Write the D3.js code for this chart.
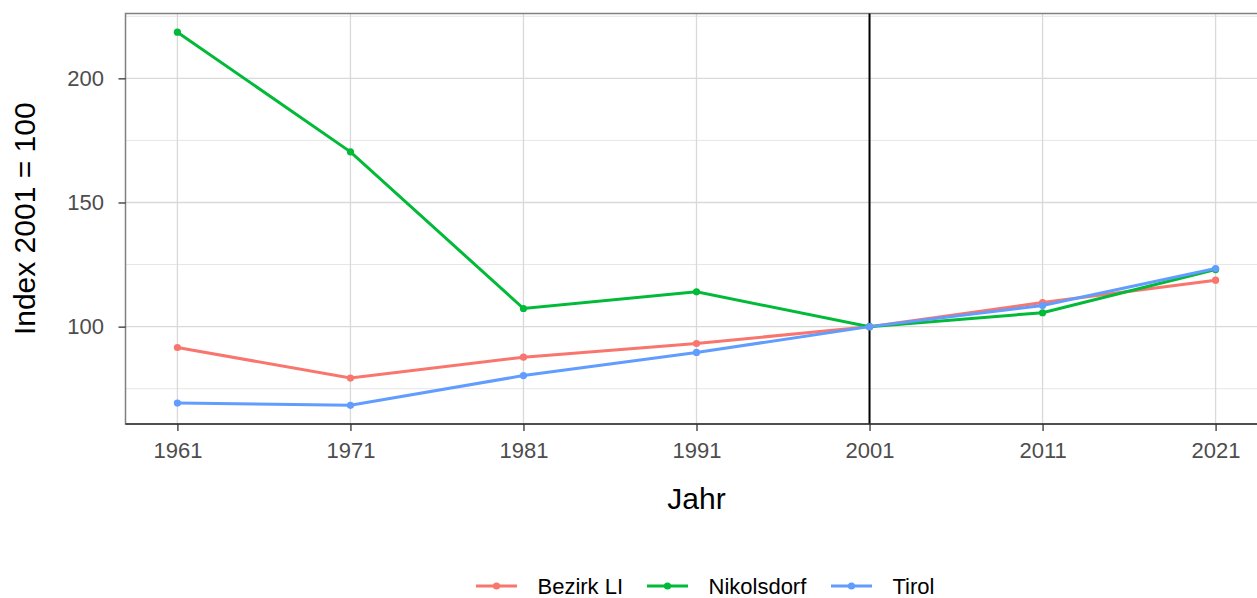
<!DOCTYPE html>
<html>
<head>
<meta charset="utf-8">
<script src="https://cdn.jsdelivr.net/npm/d3@7"></script>
<style>
  body { margin: 0; background: #fff; }
  text { font-family: Arial, "Liberation Sans", sans-serif; }
</style>
</head>
<body>
<div id="chart"></div>
<script>
// data (index 2001 = 100)
const years = [1961, 1971, 1981, 1991, 2001, 2011, 2021];
const bezirkLI = [91.6, 79.3, 87.7, 93.2, 100, 109.7, 118.7];
const nikolsdorf = [218.6, 170.4, 107.3, 114.0, 100, 105.6, 123.0];
const tirol = [69.2, 68.3, 80.3, 89.6, 100, 108.5, 123.4];
const seriesNames = ["Bezirk LI", "Nikolsdorf", "Tirol"];
const seriesColors = ["#F8766D", "#00BA38", "#619CFF"];
const yTicks = [100, 150, 200];
const yMinor = [75, 125, 175, 225];
const refYear = 2001;

const W = 1257, H = 598;
const margin = { left: 125.5, top: 13.5, right: -10.5, bottom: 174 };
const width = W - margin.left - margin.right,
  height = H - margin.top - margin.bottom;

const svg = d3.select("#chart").append("svg")
  .attr("width", W).attr("height", H);

const g = svg.append("g")
  .attr("transform", `translate(${margin.left},${margin.top})`);

const allVals = bezirkLI.concat(nikolsdorf, tirol);
const yExt = d3.extent(allVals);
const yPad = (yExt[1] - yExt[0]) * 0.05;
const xPad = (years[years.length - 1] - years[0]) * 0.05;

const x = d3.scaleLinear()
  .domain([years[0] - xPad, years[years.length - 1] + xPad])
  .range([0, width]);
const y = d3.scaleLinear()
  .domain([yExt[0] - yPad, yExt[1] + yPad])
  .range([height, 0]);

// grid lines
g.selectAll(".minor").data(yMinor.filter(v => v > y.domain()[0] && v < y.domain()[1]))
  .join("line")
  .attr("x1", 0).attr("x2", width)
  .attr("y1", d => y(d)).attr("y2", d => y(d))
  .attr("stroke", "#E6E6E6").attr("stroke-width", 1);
g.selectAll(".major").data(yTicks)
  .join("line")
  .attr("x1", 0).attr("x2", width)
  .attr("y1", d => y(d)).attr("y2", d => y(d))
  .attr("stroke", "#D9D9D9").attr("stroke-width", 1.3);
g.selectAll(".vgrid").data(years)
  .join("line")
  .attr("x1", d => x(d)).attr("x2", d => x(d))
  .attr("y1", 0).attr("y2", height)
  .attr("stroke", "#D9D9D9").attr("stroke-width", 1.3);

// panel border
g.append("rect")
  .attr("width", width).attr("height", height)
  .attr("fill", "none").attr("stroke", "#7F7F7F").attr("stroke-width", 1.5);

// reference line
g.append("line")
  .attr("x1", x(refYear)).attr("x2", x(refYear))
  .attr("y1", 0).attr("y2", height)
  .attr("stroke", "#000").attr("stroke-width", 2);

// series
const data = [bezirkLI, nikolsdorf, tirol].map((vals, i) => ({
  name: seriesNames[i],
  color: seriesColors[i],
  values: years.map((yr, j) => ({ year: yr, v: vals[j] }))
}));

const line = d3.line().x(d => x(d.year)).y(d => y(d.v));

data.forEach(s => {
  g.append("path")
    .attr("d", line(s.values))
    .attr("fill", "none")
    .attr("stroke", s.color)
    .attr("stroke-width", 3);
  g.selectAll(null).data(s.values)
    .join("circle")
    .attr("cx", d => x(d.year)).attr("cy", d => y(d.v))
    .attr("r", 3.6)
    .attr("fill", s.color);
});

// axes
const xAxis = g.append("g")
  .attr("transform", `translate(0,${height})`)
  .call(d3.axisBottom(x).tickValues(years).tickFormat(d3.format("d")).tickSize(7).tickPadding(11));
const yAxis = g.append("g")
  .call(d3.axisLeft(y).tickValues(yTicks).tickSize(7).tickPadding(14.5));

[xAxis, yAxis].forEach(ax => {
  ax.select(".domain").attr("stroke", "#333").attr("stroke-width", 1.5);
  ax.selectAll(".tick line").attr("stroke", "#333").attr("stroke-width", 1.3);
  ax.selectAll(".tick text").attr("fill", "#4D4D4D").style("font-size", "22px");
});
yAxis.select(".domain").remove();
xAxis.select(".domain").attr("d", `M0,0H${width}`);

// axis titles
svg.append("text")
  .attr("x", margin.left + width / 2)
  .attr("y", 508.5)
  .attr("text-anchor", "middle")
  .style("font-size", "30px")
  .text("Jahr");

svg.append("text")
  .attr("transform", `translate(35,${margin.top + height / 2}) rotate(-90)`)
  .attr("text-anchor", "middle")
  .style("font-size", "30px")
  .text("Index 2001 = 100");

// legend
const legendX = [476, 647, 831];
const legend = svg.append("g").attr("transform", "translate(0,586)");
data.forEach((s, i) => {
  const lg = legend.append("g").attr("transform", `translate(${legendX[i]},0)`);
  lg.append("line").attr("x1", 0).attr("x2", 41).attr("y1", 0).attr("y2", 0)
    .attr("stroke", s.color).attr("stroke-width", 3);
  lg.append("circle").attr("cx", 20.5).attr("cy", 0).attr("r", 3.6).attr("fill", s.color);
  lg.append("text").attr("x", 61.5).attr("y", 0).attr("dy", "0.35em")
    .style("font-size", "22px").attr("fill", "#000")
    .text(s.name);
});
</script>
</body>
</html>
